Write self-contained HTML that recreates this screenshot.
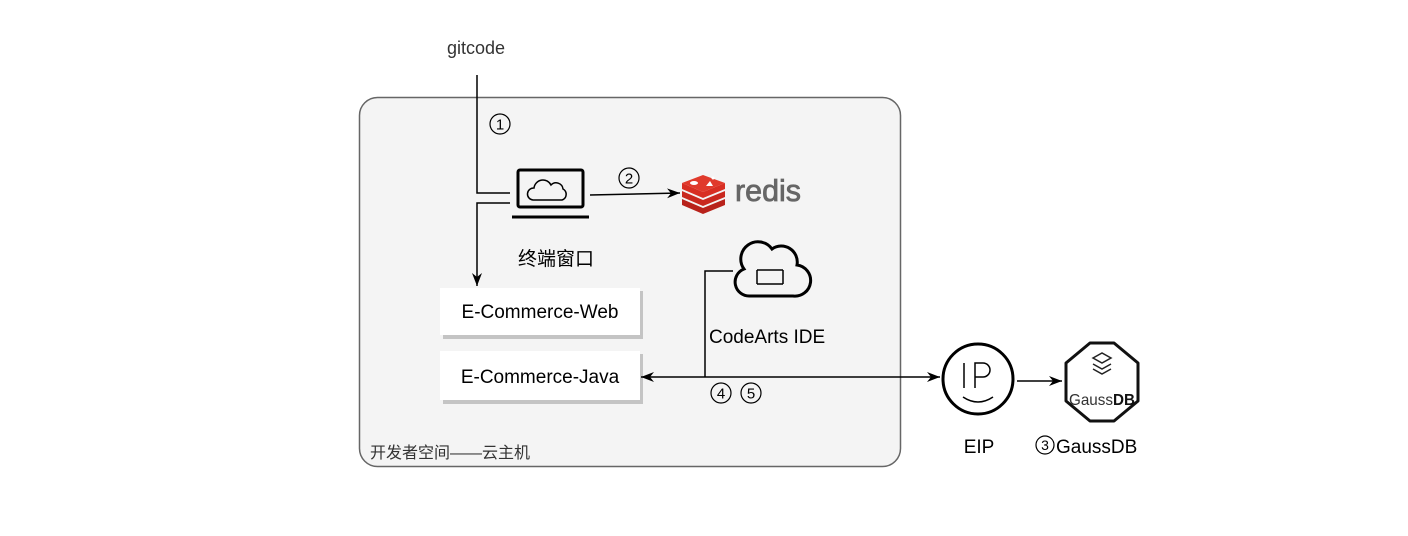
<!DOCTYPE html>
<html><head><meta charset="utf-8"><style>
html,body{margin:0;padding:0;background:#fff;}
svg text{font-family:"Liberation Sans","Noto Sans CJK SC",sans-serif;}
</style></head><body>
<svg width="1408" height="531" viewBox="0 0 1408 531" xmlns="http://www.w3.org/2000/svg">
<defs>
<marker id="a" markerWidth="14" markerHeight="12" refX="13" refY="6" orient="auto" markerUnits="userSpaceOnUse"><path d="M0,1 L13,6 L0,11 L4,6 Z" fill="#000"/></marker>
</defs>
<rect x="359.5" y="97.5" width="541" height="369" rx="18" fill="#f4f4f4" stroke="#666" stroke-width="1.5"/>
<text x="476" y="54" font-size="18" fill="#333" text-anchor="middle">gitcode</text>
<path d="M477,75 V193 H510" fill="none" stroke="#000" stroke-width="1.5"/>
<path d="M510,203 H477 V286" fill="none" stroke="#000" stroke-width="1.5" marker-end="url(#a)"/>
<circle cx="500" cy="124" r="10" fill="none" stroke="#000" stroke-width="1.2"/><text x="500" y="129.5" font-size="15" text-anchor="middle">1</text>
<!-- laptop -->
<rect x="518" y="170" width="65" height="37" rx="2" fill="none" stroke="#000" stroke-width="3"/>
<path d="M512,217 H589" stroke="#000" stroke-width="3"/>
<path d="M533,200 a6,6 0 0 1 1,-12 a9,9 0 0 1 17,-3 a7,7 0 0 1 12,4 a6,6 0 0 1 -1,11 Z" fill="none" stroke="#000" stroke-width="1.5"/>
<path d="M590,195 L680,193" stroke="#000" stroke-width="1.5" marker-end="url(#a)"/>
<circle cx="629" cy="178" r="10" fill="none" stroke="#000" stroke-width="1.2"/><text x="629" y="183.5" font-size="15" text-anchor="middle">2</text>
<!-- redis -->
<g>
<path d="M682,199 L703,208 L725,199 V205 L703,214 L682,205 Z" fill="#b8221b"/>
<path d="M682,191 L703,200 L725,191 V197 L703,206 L682,197 Z" fill="#c9281f"/>
<path d="M682,183 L703,192 L725,183 V189 L703,198 L682,189 Z" fill="#d82f23"/>
<path d="M682,183 L703,175 L725,183 L703,192 Z" fill="#e03a2c"/>
<ellipse cx="694" cy="183" rx="4" ry="2" fill="#fff"/><path d="M706,186 l4,-5 l3,5z" fill="#fff"/><circle cx="713" cy="178" r="1.5" fill="#fff"/>
</g>
<text x="735" y="201" font-size="31" fill="#666" stroke="#666" stroke-width="0.8" textLength="66" lengthAdjust="spacingAndGlyphs">redis</text>
<text x="556" y="265" font-size="19" text-anchor="middle">终端窗口</text>
<!-- boxes -->
<rect x="443" y="291" width="200" height="48" fill="#c4c4c4"/>
<rect x="440" y="288" width="200" height="47" fill="#fff"/>
<text x="540" y="318" font-size="19" text-anchor="middle">E-Commerce-Web</text>
<rect x="443" y="354" width="200" height="50" fill="#c4c4c4"/>
<rect x="440" y="351" width="200" height="49" fill="#fff"/>
<text x="540" y="383" font-size="19" text-anchor="middle">E-Commerce-Java</text>
<!-- codearts cloud -->
<path d="M750,296 a14,14 0 0 1 -6,-27 a16,16 0 0 1 28,-20 a16,16 0 0 1 25,16 a14,14 0 0 1 -4,31 Z" fill="none" stroke="#000" stroke-width="3"/>
<path d="M757,270 h26 M757,284 h26 M757,270 v14 M783,270 v14" fill="none" stroke="#000" stroke-width="1.5"/>
<path d="M733,271 H705 V377" fill="none" stroke="#000" stroke-width="1.5"/>
<text x="709" y="343" font-size="19">CodeArts IDE</text>
<path d="M705,377 H641" stroke="#000" stroke-width="1.5" marker-end="url(#a)"/>
<path d="M705,377 H940" stroke="#000" stroke-width="1.5" marker-end="url(#a)"/>
<circle cx="721" cy="393" r="10" fill="none" stroke="#000" stroke-width="1.2"/><text x="721" y="398.5" font-size="15" text-anchor="middle">4</text>
<circle cx="751" cy="393" r="10" fill="none" stroke="#000" stroke-width="1.2"/><text x="751" y="398.5" font-size="15" text-anchor="middle">5</text>
<text x="370" y="458" font-size="16" fill="#333">开发者空间——云主机</text>
<!-- EIP -->
<circle cx="978" cy="379" r="35" fill="#fff" stroke="#000" stroke-width="3"/>
<path d="M964,363 v25 M975,388 v-25 h8 a7,7 0 0 1 0,14 h-8" fill="none" stroke="#000" stroke-width="1.5"/>
<path d="M963,397 q15,10 30,0" fill="none" stroke="#000" stroke-width="1.5"/>
<path d="M1017,381 H1062" stroke="#000" stroke-width="1.5" marker-end="url(#a)"/>
<text x="979" y="453" font-size="19" text-anchor="middle">EIP</text>
<!-- GaussDB -->
<path d="M1090,343 H1114 L1138,363 V401 L1114,421 H1090 L1066,401 V363 Z" fill="#fff" stroke="#111" stroke-width="3" stroke-linejoin="round"/>
<path d="M1093,358 l9,-5 l9,5 l-9,5 z M1093,364 l9,5 l9,-5 M1093,369 l9,5 l9,-5" fill="none" stroke="#222" stroke-width="1.5"/>
<text x="1102" y="405" font-size="16" fill="#333" text-anchor="middle" textLength="66" lengthAdjust="spacingAndGlyphs">Gauss<tspan font-weight="bold" fill="#111">DB</tspan></text>
<circle cx="1045" cy="445" r="9" fill="none" stroke="#000" stroke-width="1.2"/><text x="1045" y="450" font-size="14" text-anchor="middle">3</text>
<text x="1056" y="453" font-size="19">GaussDB</text>
</svg>
</body></html>
